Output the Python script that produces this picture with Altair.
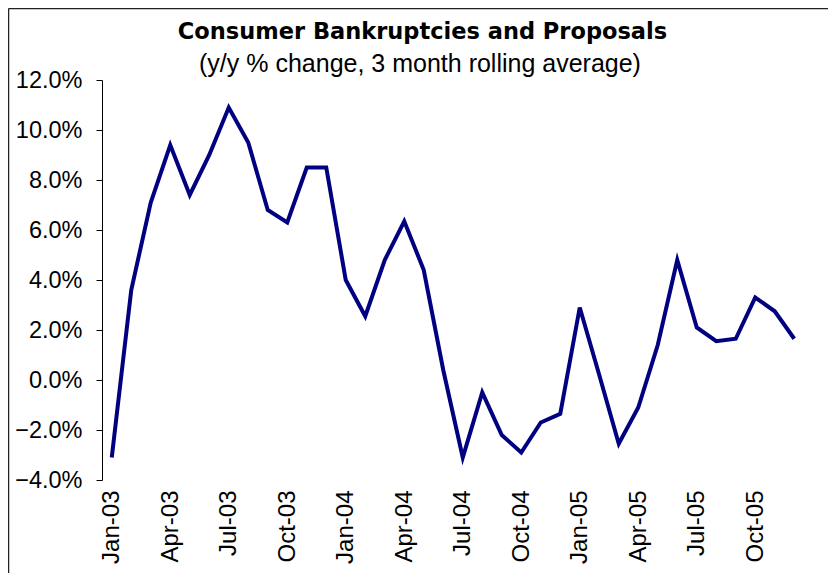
import altair as alt
import pandas as pd

TITLE = "Consumer Bankruptcies and Proposals"
SUBTITLE = "(y/y % change, 3 month rolling average)"

MONTHS = [
    "Jan-03", "Feb-03", "Mar-03", "Apr-03", "May-03", "Jun-03",
    "Jul-03", "Aug-03", "Sep-03", "Oct-03", "Nov-03", "Dec-03",
    "Jan-04", "Feb-04", "Mar-04", "Apr-04", "May-04", "Jun-04",
    "Jul-04", "Aug-04", "Sep-04", "Oct-04", "Nov-04", "Dec-04",
    "Jan-05", "Feb-05", "Mar-05", "Apr-05", "May-05", "Jun-05",
    "Jul-05", "Aug-05", "Sep-05", "Oct-05", "Nov-05", "Dec-05",
]
VALUES = [
    -3.1, 3.6, 7.1, 9.4, 7.4, 9.0,
    10.9, 9.5, 6.8, 6.3, 8.5, 8.5,
    4.0, 2.55, 4.8, 6.35, 4.4, 0.4,
    -3.1, -0.5, -2.2, -2.9, -1.7, -1.35,
    2.9, 0.2, -2.55, -1.1, 1.4, 4.8,
    2.1, 1.55, 1.65, 3.3, 2.75, 1.65,
]
TICK_LABELS = ["Jan-03", "Apr-03", "Jul-03", "Oct-03", "Jan-04", "Apr-04",
               "Jul-04", "Oct-04", "Jan-05", "Apr-05", "Jul-05", "Oct-05"]
Y_TICKS = [-4, -2, 0, 2, 4, 6, 8, 10, 12]

df = pd.DataFrame({"month": MONTHS, "value": VALUES})

W, H = 702, 400
PAD = {"left": 94, "top": 72, "right": 24, "bottom": 93}

line = alt.Chart(df).mark_line(color="#000080", strokeWidth=4).encode(
    x=alt.X(
        "month:O",
        sort=None,
        scale=alt.Scale(type="point", padding=0.5),
        axis=alt.Axis(
            values=TICK_LABELS,
            labelAngle=-90,
            labelAlign="right",
            labelBaseline="middle",
            labelPadding=10,
            labelFont="Liberation Sans",
            labelFontSize=24,
            labelColor="#000000",
            domain=False,
            ticks=False,
            title=None,
        ),
    ),
    y=alt.Y(
        "value:Q",
        scale=alt.Scale(domain=[-4, 12], nice=False, zero=False),
        axis=alt.Axis(
            values=Y_TICKS,
            labelExpr="format(datum.value, '.1f') + '%'",
            labelFont="Liberation Sans",
            labelFontSize=23.5,
            labelColor="#000000",
            labelPadding=14,
            tickSize=6,
            tickColor="#000000",
            domainColor="#000000",
            grid=False,
            title=None,
        ),
    ),
)

title_df = pd.DataFrame({"t": [TITLE]})
sub_df = pd.DataFrame({"t": [SUBTITLE]})

title = alt.Chart(title_df).mark_text(
    font="DejaVu Sans", fontWeight="bold", fontSize=22.5, color="#000000",
    align="center", baseline="alphabetic",
).encode(x=alt.value(320.5), y=alt.value(-41), text="t:N")

subtitle = alt.Chart(sub_df).mark_text(
    font="Liberation Sans", fontSize=25, color="#000000",
    align="center", baseline="alphabetic",
).encode(x=alt.value(318), y=alt.value(-8), text="t:N")

frame_left = alt.Chart(title_df).mark_rule(color="#222222", strokeWidth=1.5).encode(
    x=alt.value(-93.5), y=alt.value(-71.5), y2=alt.value(H + PAD["bottom"])
)
frame_top = alt.Chart(title_df).mark_rule(color="#222222", strokeWidth=1.5).encode(
    x=alt.value(-93.5), x2=alt.value(W + PAD["right"]), y=alt.value(-71.5)
)

chart = alt.layer(frame_left, frame_top, line, title, subtitle).properties(
    width=W,
    height=H,
    autosize=alt.AutoSizeParams(type="none"),
    padding=PAD,
).configure(
    background="#ffffff",
    view=alt.ViewConfig(stroke="transparent", strokeWidth=0),
)

chart.save("out.html", embed_options={"renderer": "svg", "actions": False})
